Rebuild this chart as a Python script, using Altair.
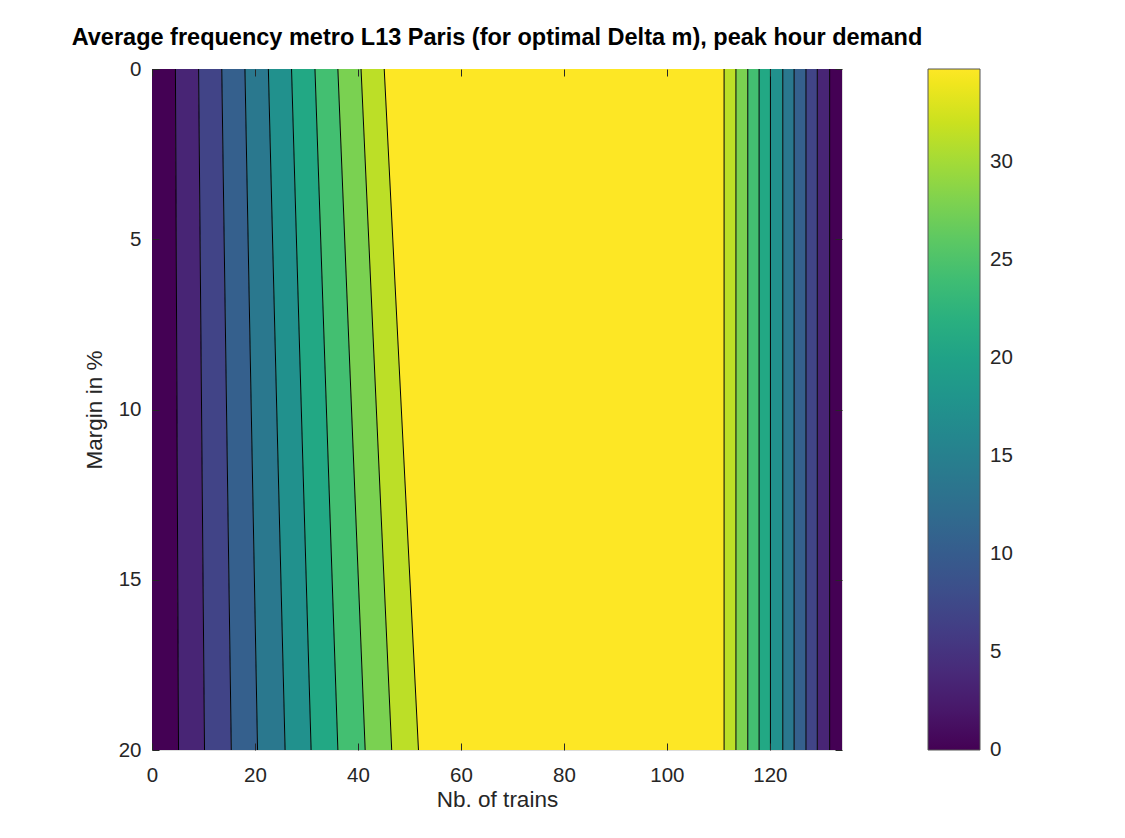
import altair as alt
import pandas as pd

# ---- data ----
title_text = "Average frequency metro L13 Paris (for optimal Delta m), peak hour demand"
margins = [0, 20]                      # y range (Margin in %)
x_range = [0, 134]                     # Nb. of trains range
z_max = 34.75                          # top of colour bar
level_values = [0, 3.475, 6.95, 10.425, 13.9, 17.375, 20.85, 24.325, 27.8, 31.275, 34.75]
# left-side contour boundaries (x at margin 0 and margin 20)
left_bound_top = [4.55, 9.05, 13.55, 18.05, 22.6, 27.1, 31.65, 36.1, 40.6, 45.1]
left_bound_bottom = [5.15, 10.2, 15.4, 20.5, 25.85, 30.9, 36.1, 41.4, 46.55, 51.75]
# right-side contour boundaries (vertical)
right_bounds = [111.1, 113.4, 115.7, 117.9, 120.1, 122.5, 124.7, 127.0, 129.2, 131.6]
x_ticks = [0, 20, 40, 60, 80, 100, 120]
y_ticks = [0, 5, 10, 15, 20]
# colour-bar ticks (the first one nudged a hair above 0 so its label is centred on the tick)
cbar_ticks = [0.02, 5, 10, 15, 20, 25, 30]

# ---- build band polygons and contour lines ----
lt = [x_range[0]] + left_bound_top
lb = [x_range[0]] + left_bound_bottom
rb = right_bounds + [x_range[1]]
band_rows = []
for k in range(10):
    band_rows.append(dict(band=f"L{k}", level=level_values[k], margin=margins[0], x=lt[k], x2=lt[k + 1]))
    band_rows.append(dict(band=f"L{k}", level=level_values[k], margin=margins[1], x=lb[k], x2=lb[k + 1]))
band_rows.append(dict(band="P", level=level_values[10], margin=margins[0], x=left_bound_top[-1], x2=right_bounds[0]))
band_rows.append(dict(band="P", level=level_values[10], margin=margins[1], x=left_bound_bottom[-1], x2=right_bounds[0]))
for j in range(10):
    lev = level_values[9 - j]
    for m in margins:
        band_rows.append(dict(band=f"R{j}", level=lev, margin=m, x=rb[j], x2=rb[j + 1]))
bands = pd.DataFrame(band_rows)

line_rows = []
for k in range(10):
    line_rows.append(dict(line=f"L{k}", margin=margins[0], x=left_bound_top[k]))
    line_rows.append(dict(line=f"L{k}", margin=margins[1], x=left_bound_bottom[k]))
for j, xv in enumerate(right_bounds):
    for m in margins:
        line_rows.append(dict(line=f"R{j}", margin=m, x=xv))
lines = pd.DataFrame(line_rows)

FONT = "Liberation Sans"
TXT = "#262626"

xscale = alt.Scale(domain=x_range, nice=False, zero=False)
yscale = alt.Scale(domain=margins, reverse=True, nice=False)

bottom_axis = alt.Axis(values=x_ticks, orient="bottom", offset=-7, tickSize=7, domain=False,
                       grid=False, labelFontSize=20.5, labelColor=TXT, labelFont=FONT,
                       labelPadding=15, labelFlush=False, tickColor=TXT, title="Nb. of trains",
                       titleFontSize=22.5, titleFont=FONT, titleColor=TXT, titleFontWeight="normal",
                       titlePadding=3, zindex=2)
left_axis = alt.Axis(values=y_ticks, orient="left", offset=-7, tickSize=7, domain=False,
                     grid=False, labelFontSize=20.5, labelColor=TXT, labelFont=FONT,
                     labelPadding=11, labelFlush=False, tickColor=TXT, title="Margin in %",
                     titleFontSize=22.5, titleFont=FONT, titleColor=TXT, titleFontWeight="normal",
                     titlePadding=12, zindex=2)
top_axis = alt.Axis(values=x_ticks, orient="top", offset=-7, tickSize=7, domain=False,
                    grid=False, labels=False, tickColor=TXT, title=None, zindex=2)
right_axis = alt.Axis(values=y_ticks, orient="right", offset=-7, tickSize=7, domain=False,
                      grid=False, labels=False, tickColor=TXT, title=None, zindex=2)

area = alt.Chart(bands).mark_area(orient="horizontal", strokeWidth=0).encode(
    y=alt.Y("margin:Q", scale=yscale, axis=left_axis),
    x=alt.X("x:Q", scale=xscale, axis=bottom_axis),
    x2="x2:Q",
    detail="band:N",
    color=alt.Color(
        "level:Q",
        scale=alt.Scale(scheme="viridis", domain=[0, z_max], nice=False),
        legend=alt.Legend(
            orient="none", legendX=776, legendY=0, direction="vertical",
            gradientLength=681, gradientThickness=52, title=None, values=cbar_ticks,
            labelExpr="'' + round(datum.value)",
            labelFontSize=20.5, labelColor=TXT, labelFont=FONT, labelOffset=10,
            gradientStrokeColor="#555555", gradientStrokeWidth=1, padding=0,
            labelOverlap=False,
        ),
    ),
)

contours = alt.Chart(lines).mark_line(color="black", strokeWidth=1).encode(
    y=alt.Y("margin:Q", scale=yscale, axis=right_axis),
    x=alt.X("x:Q", scale=xscale, axis=top_axis),
    detail="line:N",
    order="margin:Q",
)

chart = alt.layer(area, contours).resolve_axis(x="independent", y="independent").properties(
    width=690,
    height=681,
    autosize=alt.AutoSizeParams(type="none"),
    padding={"left": 144, "top": 61, "right": 268, "bottom": 75},
    title=alt.TitleParams(title_text, fontSize=23.5, font=FONT, fontWeight="bold", color="black",
                          anchor="middle", frame="group", offset=10),
).configure_view(stroke=TXT, strokeWidth=1).configure(background="white")

chart.save("out.html", embed_options={"renderer": "svg", "actions": False})
